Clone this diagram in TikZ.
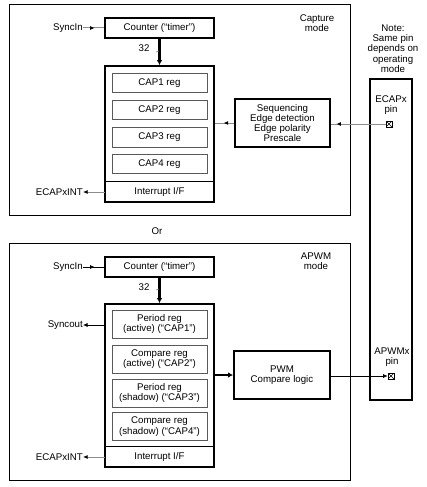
\documentclass[tikz,border=0pt]{standalone}
\usepackage{fontspec}
\setmainfont{Liberation Sans}
\usetikzlibrary{positioning,decorations.markings,arrows.meta}

\tikzset{
  every node/.style={font=\fontsize{9.7}{10.3}\selectfont, align=center, inner sep=0pt},
  frame/.style={draw, line width=0.8pt},
  blk/.style={draw, line width=1.8pt, minimum width=109pt},
  reg/.style={draw=black!65, line width=0.7pt, minimum width=95pt},
  sig/.style={draw=black!45, line width=1pt},
  sigdark/.style={draw=black, line width=0.7pt},
  tip/.style={-{Latex[length=4.5pt,width=4pt,color=black]}},
  bus/.style={line width=2.6pt, -{Latex[length=5pt,width=5.5pt]}},
  midarr/.style={postaction={decorate}, decoration={markings,
      mark=at position #1 with {\arrow{Latex[length=4.5pt,width=4pt,color=black]}}}},
  pinbox/.style={draw, line width=0.6pt, minimum size=6pt,
      path picture={\draw[line width=0.5pt] (path picture bounding box.south west) -- (path picture bounding box.north east)
        (path picture bounding box.north west) -- (path picture bounding box.south east);}}
}

\begin{document}
\begin{tikzpicture}[x=1pt,y=-1pt]
  \useasboundingbox (0,0) rectangle (426,487);

  % Capture mode
  \draw[frame] (9,4) rectangle (350,215);
  \node (capmode) at (317,23) {Capture\\mode};
  \node[blk, minimum height=20pt] (cnttop) at (159.5,28) {Counter (``timer'')};
  \node[blk, minimum height=136pt] (capbox) at (159.5,134) {};
  \node[minimum width=109pt, minimum height=20pt] (inttop) at (159.5,192) {Interrupt I/F};
  \draw[line width=0.8pt] (capbox.west |- inttop.north) -- (capbox.east |- inttop.north);
  \foreach \i/\y in {1/83, 2/110, 3/137.5, 4/164} {
    \node[reg, minimum height=19.5pt] (cap\i) at (159.5,\y) {CAP\i{} reg};
  }
  \draw[bus] (cnttop.south) -- (capbox.north);
  \node (bustop) at (144,48) {32};
  \draw[black!50, line width=0.6pt] (156,52) -- (159,51);

  \node[anchor=east] (syncintop) at (83,28) {SyncIn};
  \draw[sig, midarr=0.55] (syncintop.east) -- (cnttop.west);
  \node[anchor=east] (ecapint) at (83,192) {ECAPxINT};
  \draw[sig, tip] (inttop.west) -- (ecapint.east);

  \node[draw, line width=1.8pt, minimum width=95pt, minimum height=48pt] (seq) at (282.5,123)
    {Sequencing\\Edge detection\\Edge polarity\\Prescale};
  \draw[sig, midarr=0.55] (seq.west) -- (capbox.east |- seq.west);

  % Pins
  \node[draw, line width=1.8pt, minimum width=42pt, minimum height=321pt] (pincol) at (391,239.5) {};
  \node (note) at (393,48.5) {Note:\\Same pin\\depends on\\operating\\mode};
  \node (ecaplbl) at (391,105) {ECAPx\\pin};
  \node[pinbox] (ecappin) at (389,124) {};
  \draw[sig, midarr=0.9] (ecappin.west) -- (seq.east |- ecappin.west);

  \node (or) at (157,231) {Or};

  % APWM mode
  \draw[frame] (9,243) rectangle (350,480);
  \node (apwmmode) at (316,261.5) {APWM\\mode};
  \node[blk, minimum height=20pt] (cntbot) at (159.5,267) {Counter (``timer'')};
  \node[blk, minimum height=163pt] (apwmbox) at (159.5,385.5) {};
  \node[minimum width=109pt, minimum height=20pt] (intbot) at (159.5,457) {Interrupt I/F};
  \draw[line width=0.8pt] (apwmbox.west |- intbot.north) -- (apwmbox.east |- intbot.north);
  \foreach \n/\y/\txt in {1/324/Period reg\\(active) (``CAP1''), 2/359/Compare reg\\(active) (``CAP2''),
      3/393/Period reg\\(shadow) (``CAP3''), 4/426.5/Compare reg\\(shadow) (``CAP4'')} {
    \node[reg, minimum height=28pt] (apwm\n) at (159.5,\y) {\txt};
  }
  \draw[bus] (cntbot.south) -- (apwmbox.north);
  \node (busbot) at (144,287) {32};
  \draw[black!50, line width=0.6pt] (156,290) -- (159,289);

  \node[anchor=east] (syncinbot) at (83,267) {SyncIn};
  \draw[sigdark, midarr=0.55] (syncinbot.east) -- (cntbot.west);
  \node[anchor=east] (syncout) at (83,325) {Syncout};
  \draw[sigdark, tip] (apwmbox.west |- syncout.east) -- (syncout.east);
  \node[anchor=east] (ecapintbot) at (83,457) {ECAPxINT};
  \draw[sig, tip] (intbot.west) -- (ecapintbot.east);

  \node[draw, line width=1.8pt, minimum width=96pt, minimum height=48pt] (pwm) at (282,375)
    {PWM\\Compare logic};
  \draw[bus, line width=1.8pt] (apwmbox.east |- pwm.west) -- (pwm.west);

  \node (apwmlbl) at (392,357) {APWMx\\pin};
  \node[pinbox] (apwmpin) at (391,376) {};
  \draw[sigdark, tip] (pwm.east |- apwmpin.west) -- (apwmpin.west);
\end{tikzpicture}
\end{document}
